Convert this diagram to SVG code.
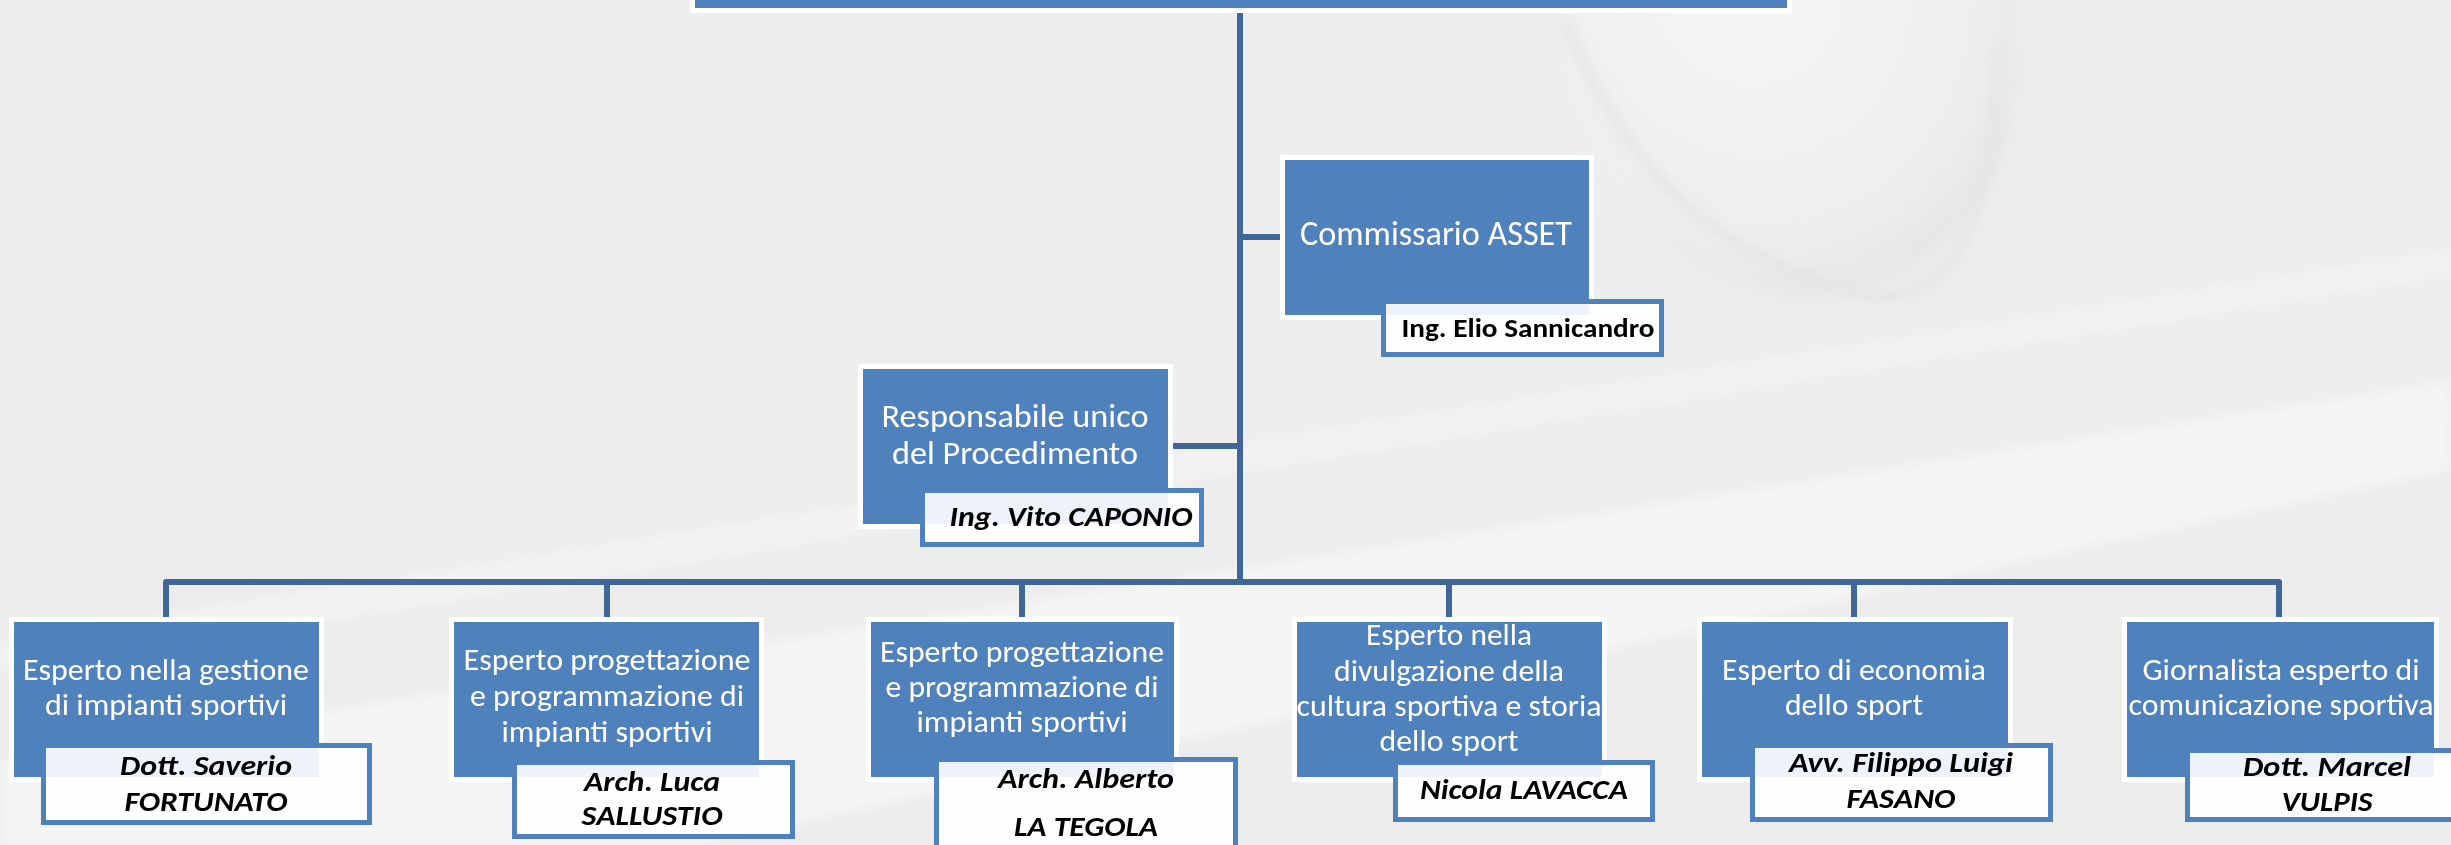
<svg xmlns="http://www.w3.org/2000/svg" width="2451" height="845" viewBox="0 0 2451 845">
<defs>
  <linearGradient id="bg" x1="0" y1="0" x2="0" y2="1">
    <stop offset="0" stop-color="#eeeeee"/>
    <stop offset="1" stop-color="#ececec"/>
  </linearGradient>
  <radialGradient id="ball" cx="0.45" cy="0.35" r="0.7">
    <stop offset="0" stop-color="#f6f6f6"/>
    <stop offset="0.7" stop-color="#efefef"/>
    <stop offset="1" stop-color="#e2e2e2"/>
  </radialGradient>
  <filter id="soft" x="-10%" y="-10%" width="120%" height="120%"><feGaussianBlur stdDeviation="6"/></filter>
</defs>
<style>
  .unit { fill: #4f81bd; stroke: #ffffff; stroke-width: 5; }
  .name { fill: #ffffff; fill-opacity: 0.9; stroke: #4f81bd; stroke-width: 5; }
  .t { font-family: Carlito, Lato, "Open Sans", sans-serif; fill: #ffffff; text-anchor: middle; font-size: 30px; }
  .big { font-size: 34px; }
  .mid { font-size: 32px; }
  .n { font-family: Carlito, Lato, "Open Sans", sans-serif; fill: #000000; text-anchor: middle; font-weight: bold; font-style: italic; font-size: 29px; }
  .nb { font-style: normal; font-size: 27px; }
  .link { fill: none; stroke: #41679a; stroke-width: 6; stroke-linejoin: round; }
</style>

<!-- background -->
<rect x="0" y="0" width="2451" height="845" fill="url(#bg)"/>
<g id="background" opacity="0.9">
  <polygon points="0,845 0,760 2451,380 2451,470 700,845" fill="#f5f5f5" filter="url(#soft)"/>
  <polygon points="0,640 2451,250 2451,275 0,675" fill="#f3f3f3" filter="url(#soft)"/>
  <ellipse cx="1790" cy="40" rx="225" ry="260" transform="rotate(-18 1790 40)" fill="url(#ball)" filter="url(#soft)"/>
  <path d="M1565,20 C1620,170 1740,280 1880,296 C1960,300 1995,200 2000,40" fill="none" stroke="#e4e4e4" stroke-width="10" filter="url(#soft)"/>
</g>

<!-- connectors -->
<g id="connectors">
  <line class="link" x1="1240" y1="13" x2="1240" y2="582"/>
  <line class="link" x1="1240" y1="237" x2="1281" y2="237"/>
  <line class="link" x1="1172" y1="446" x2="1240" y2="446"/>
  <path class="link" d="M166,618 V582 H2279 V618"/>
  <line class="link" x1="607" y1="582" x2="607" y2="618"/>
  <line class="link" x1="1022" y1="582" x2="1022" y2="618"/>
  <line class="link" x1="1449" y1="582" x2="1449" y2="618"/>
  <line class="link" x1="1854" y1="582" x2="1854" y2="618"/>
</g>

<!-- top node (mostly outside the picture) -->
<g id="node-top">
  <rect class="unit" x="692.5" y="-40" width="1097" height="50.5"/>
</g>

<!-- Commissario ASSET -->
<g id="node-commissario">
  <rect class="unit" x="1282.5" y="157.5" width="309" height="160"/>
  <text class="t big" x="1436" y="245" textLength="272" lengthAdjust="spacingAndGlyphs">Commissario ASSET</text>
  <rect class="name" x="1383.5" y="301.5" width="278" height="53"/>
  <text class="n nb" x="1528" y="337" textLength="253" lengthAdjust="spacingAndGlyphs">Ing. Elio Sannicandro</text>
</g>

<!-- Responsabile unico del Procedimento -->
<g id="node-rup">
  <rect class="unit" x="860.5" y="366.5" width="310" height="160"/>
  <text class="t mid" x="1015" y="427" textLength="267" lengthAdjust="spacingAndGlyphs">Responsabile unico</text>
  <text class="t mid" x="1015" y="464" textLength="246" lengthAdjust="spacingAndGlyphs">del Procedimento</text>
  <rect class="name" x="922.5" y="490.5" width="279" height="54"/>
  <text class="n" x="1071" y="526" textLength="243" lengthAdjust="spacingAndGlyphs">Ing. Vito CAPONIO</text>
</g>

<!-- Bottom nodes -->
<g id="node-fortunato">
  <rect class="unit" x="11.5" y="619.5" width="310" height="160"/>
  <text class="t" x="166" y="680" textLength="286" lengthAdjust="spacingAndGlyphs">Esperto nella gestione</text>
  <text class="t" x="166" y="715" textLength="242" lengthAdjust="spacingAndGlyphs">di impianti sportivi</text>
  <rect class="name" x="43.5" y="745.5" width="326" height="77"/>
  <text class="n" x="206" y="775" textLength="172" lengthAdjust="spacingAndGlyphs">Dott. Saverio</text>
  <text class="n" x="206" y="811" textLength="163" lengthAdjust="spacingAndGlyphs">FORTUNATO</text>
</g>

<g id="node-sallustio">
  <rect class="unit" x="451.5" y="619.5" width="310" height="160"/>
  <text class="t" x="607" y="670" textLength="287" lengthAdjust="spacingAndGlyphs">Esperto progettazione</text>
  <text class="t" x="607" y="706" textLength="274" lengthAdjust="spacingAndGlyphs">e programmazione di</text>
  <text class="t" x="607" y="742" textLength="211" lengthAdjust="spacingAndGlyphs">impianti sportivi</text>
  <rect class="name" x="514.5" y="762.5" width="278" height="74"/>
  <text class="n" x="652" y="791" textLength="136" lengthAdjust="spacingAndGlyphs">Arch. Luca</text>
  <text class="n" x="652" y="825" textLength="141" lengthAdjust="spacingAndGlyphs">SALLUSTIO</text>
</g>

<g id="node-lategola">
  <rect class="unit" x="868.5" y="619.5" width="308" height="160"/>
  <text class="t" x="1022" y="662" textLength="284" lengthAdjust="spacingAndGlyphs">Esperto progettazione</text>
  <text class="t" x="1022" y="697" textLength="273" lengthAdjust="spacingAndGlyphs">e programmazione di</text>
  <text class="t" x="1022" y="732" textLength="211" lengthAdjust="spacingAndGlyphs">impianti sportivi</text>
  <rect class="name" x="936.5" y="759.5" width="299" height="100"/>
  <text class="n" x="1086" y="788" textLength="176" lengthAdjust="spacingAndGlyphs">Arch. Alberto</text>
  <text class="n" x="1086" y="836" textLength="144" lengthAdjust="spacingAndGlyphs">LA TEGOLA</text>
</g>

<g id="node-lavacca">
  <rect class="unit" x="1294.5" y="619.5" width="310" height="160"/>
  <text class="t" x="1449" y="645" textLength="166" lengthAdjust="spacingAndGlyphs">Esperto nella</text>
  <text class="t" x="1449" y="681" textLength="230" lengthAdjust="spacingAndGlyphs">divulgazione della</text>
  <text class="t" x="1449" y="716" textLength="305" lengthAdjust="spacingAndGlyphs">cultura sportiva e storia</text>
  <text class="t" x="1449" y="751" textLength="139" lengthAdjust="spacingAndGlyphs">dello sport</text>
  <rect class="name" x="1395.5" y="762.5" width="257" height="57"/>
  <text class="n" x="1524" y="799" textLength="208" lengthAdjust="spacingAndGlyphs">Nicola LAVACCA</text>
</g>

<g id="node-fasano">
  <rect class="unit" x="1699.5" y="619.5" width="311" height="160"/>
  <text class="t" x="1854" y="680" textLength="264" lengthAdjust="spacingAndGlyphs">Esperto di economia</text>
  <text class="t" x="1854" y="715" textLength="138" lengthAdjust="spacingAndGlyphs">dello sport</text>
  <rect class="name" x="1752.5" y="745.5" width="298" height="74"/>
  <text class="n" x="1901" y="772" textLength="224" lengthAdjust="spacingAndGlyphs">Avv. Filippo Luigi</text>
  <text class="n" x="1901" y="808" textLength="109" lengthAdjust="spacingAndGlyphs">FASANO</text>
</g>

<g id="node-vulpis">
  <rect class="unit" x="2124.5" y="619.5" width="312" height="160"/>
  <text class="t" x="2281" y="680" textLength="277" lengthAdjust="spacingAndGlyphs">Giornalista esperto di</text>
  <text class="t" x="2281" y="715" textLength="305" lengthAdjust="spacingAndGlyphs">comunicazione sportiva</text>
  <rect class="name" x="2187.5" y="750.5" width="280" height="69"/>
  <text class="n" x="2327" y="776" textLength="168" lengthAdjust="spacingAndGlyphs">Dott. Marcel</text>
  <text class="n" x="2327" y="811" textLength="91" lengthAdjust="spacingAndGlyphs">VULPIS</text>
</g>
</svg>
